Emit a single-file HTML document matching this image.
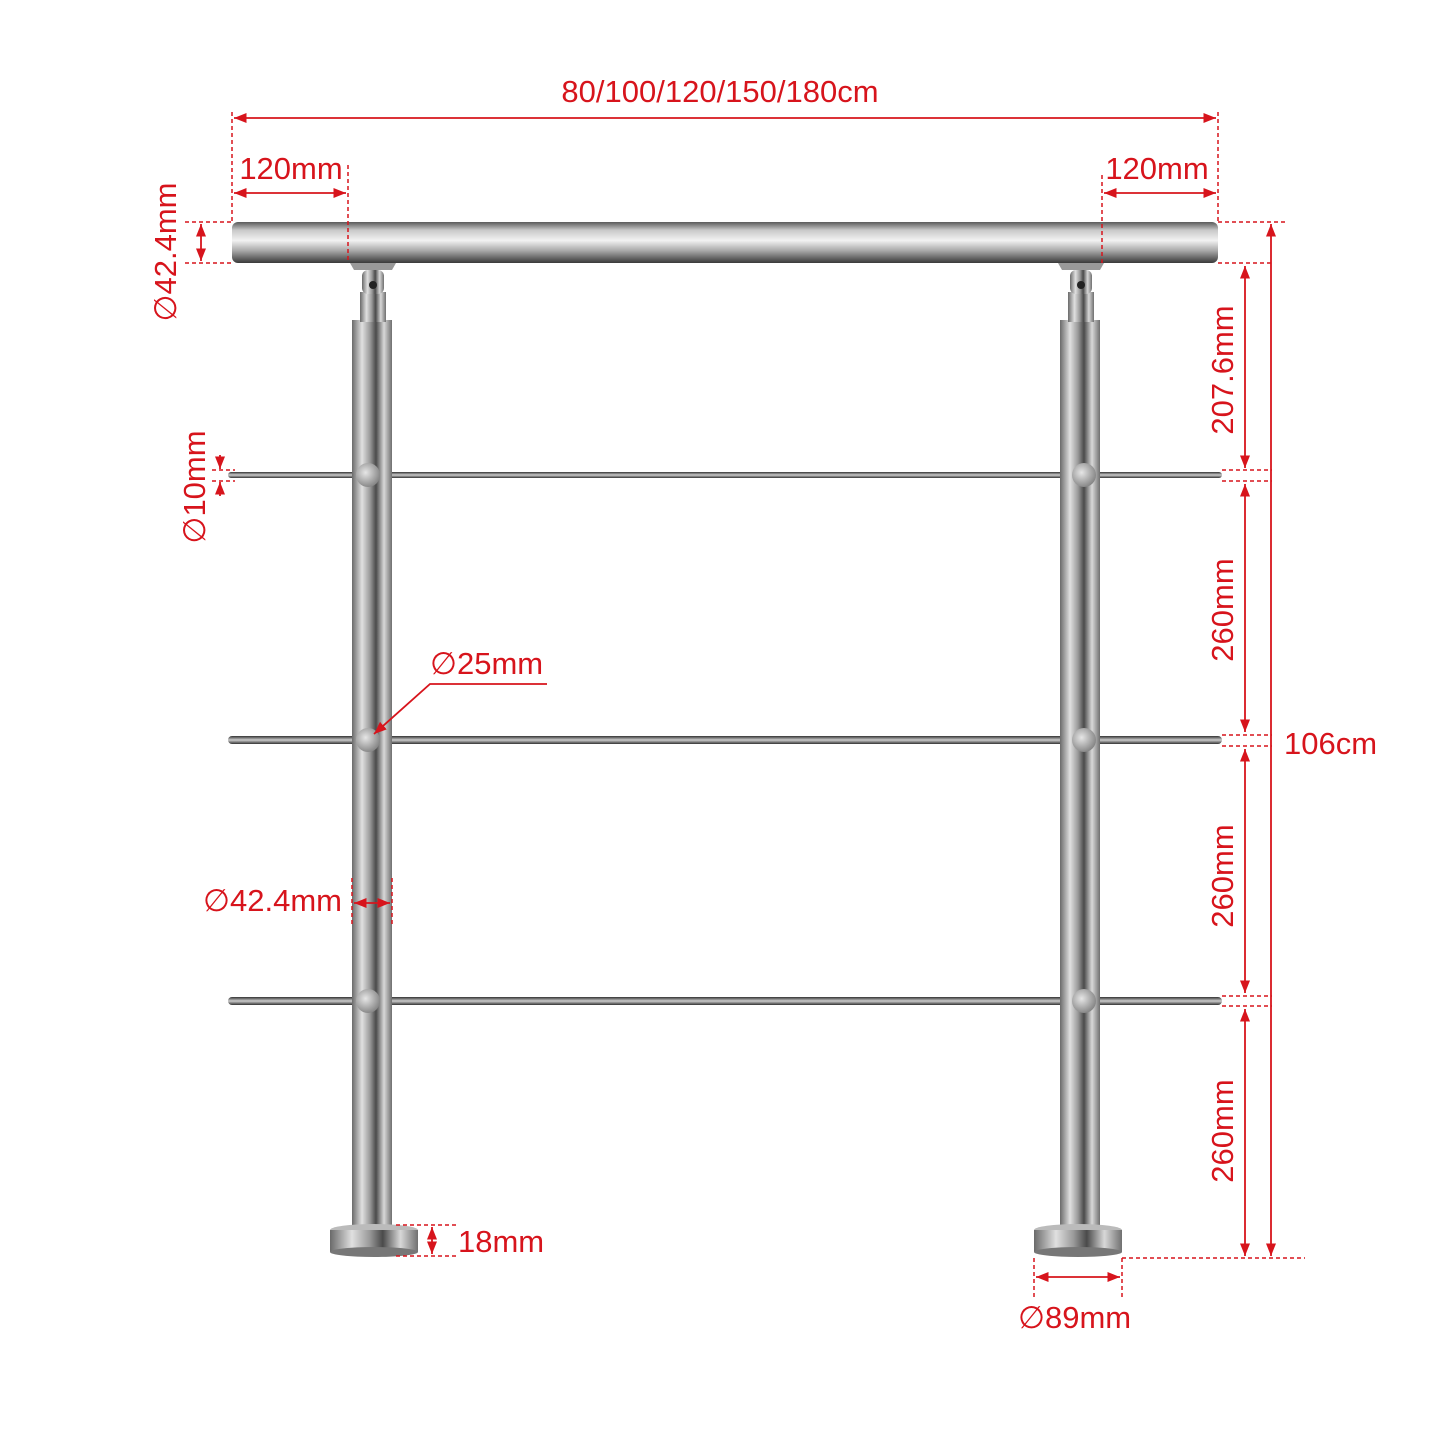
<!DOCTYPE html>
<html><head><meta charset="utf-8"><style>
html,body{margin:0;padding:0;background:#fff;}
svg{display:block;}
text{font-family:"Liberation Sans","DejaVu Sans",sans-serif;fill:#d7141c;font-size:31px;}
</style></head><body>
<svg width="1445" height="1445" viewBox="0 0 1445 1445" xmlns="http://www.w3.org/2000/svg">
<defs>
<linearGradient id="gh" x1="0" y1="0" x2="0" y2="1">
<stop offset="0" stop-color="#5a5a5a"/><stop offset="0.2" stop-color="#c9c9c9"/><stop offset="0.45" stop-color="#f2f2f2"/><stop offset="0.7" stop-color="#a8a8a8"/><stop offset="1" stop-color="#3a3a3a"/>
</linearGradient>
<linearGradient id="gv" x1="0" y1="0" x2="1" y2="0">
<stop offset="0" stop-color="#6a6a6a"/><stop offset="0.25" stop-color="#e0e0e0"/><stop offset="0.45" stop-color="#9a9a9a"/><stop offset="0.6" stop-color="#4a4a4a"/><stop offset="0.8" stop-color="#d8d8d8"/><stop offset="1" stop-color="#707070"/>
</linearGradient>
<linearGradient id="gr" x1="0" y1="0" x2="0" y2="1">
<stop offset="0" stop-color="#333"/><stop offset="0.5" stop-color="#ccc"/><stop offset="1" stop-color="#333"/>
</linearGradient>
<radialGradient id="gd" cx="0.4" cy="0.4" r="0.7"><stop offset="0" stop-color="#e6e6e6"/><stop offset="1" stop-color="#7a7a7a"/></radialGradient>
<marker id="a" viewBox="0 0 10 10" refX="10" refY="5" markerWidth="7" markerHeight="7" orient="auto-start-reverse"><path d="M0,1 L10,5 L0,9 z" fill="#d7141c"/></marker>
</defs>

<g>
<rect x="228" y="472" width="994" height="6" rx="3" fill="url(#gr)"/>
<rect x="228" y="736" width="994" height="8" rx="4" fill="url(#gr)"/>
<rect x="228" y="997" width="994" height="8" rx="4" fill="url(#gr)"/>
</g>
<g>
<rect x="352" y="320" width="40" height="915" fill="url(#gv)"/>
<rect x="1060" y="320" width="40" height="915" fill="url(#gv)"/>
<rect x="360" y="292" width="26" height="30" fill="url(#gv)"/>
<rect x="1068" y="292" width="26" height="30" fill="url(#gv)"/>
<rect x="362" y="270" width="22" height="24" rx="6" fill="url(#gv)"/>
<rect x="1070" y="270" width="22" height="24" rx="6" fill="url(#gv)"/>
<circle cx="373" cy="285" r="4" fill="#222"/>
<circle cx="1081" cy="285" r="4" fill="#222"/>
<path d="M350 263 H396 L392 270 H354 Z" fill="#999"/>
<path d="M1058 263 H1104 L1100 270 H1062 Z" fill="#999"/>
<ellipse cx="374" cy="1230" rx="44" ry="6" fill="#bbb"/>
<rect x="330" y="1230" width="88" height="22" fill="url(#gv)"/>
<ellipse cx="374" cy="1252" rx="44" ry="5" fill="#777"/>
<ellipse cx="1078" cy="1230" rx="44" ry="6" fill="#bbb"/>
<rect x="1034" y="1230" width="88" height="22" fill="url(#gv)"/>
<ellipse cx="1078" cy="1252" rx="44" ry="5" fill="#777"/>
<circle cx="368" cy="475" r="12" fill="url(#gd)"/>
<circle cx="1084" cy="475" r="12" fill="url(#gd)"/>
<circle cx="368" cy="740" r="12" fill="url(#gd)"/>
<circle cx="1084" cy="740" r="12" fill="url(#gd)"/>
<circle cx="368" cy="1001" r="12" fill="url(#gd)"/>
<circle cx="1084" cy="1001" r="12" fill="url(#gd)"/>
</g>
<rect x="232" y="222" width="986" height="41" rx="6" fill="url(#gh)"/>

<g stroke="#d7141c" stroke-width="1.5" fill="none" stroke-dasharray="4,3">
<line x1="232" y1="112" x2="232" y2="222"/>
<line x1="1218" y1="112" x2="1218" y2="222"/>
<line x1="348" y1="165" x2="348" y2="263"/>
<line x1="1102" y1="175" x2="1102" y2="263"/>
<line x1="185" y1="222" x2="232" y2="222"/>
<line x1="185" y1="263" x2="232" y2="263"/>
<line x1="1218" y1="222" x2="1285" y2="222"/>
<line x1="1218" y1="263" x2="1272" y2="263"/>
<line x1="1222" y1="470" x2="1272" y2="470"/>
<line x1="1222" y1="481" x2="1272" y2="481"/>
<line x1="1222" y1="735" x2="1272" y2="735"/>
<line x1="1222" y1="746" x2="1272" y2="746"/>
<line x1="1222" y1="996" x2="1272" y2="996"/>
<line x1="1222" y1="1006" x2="1272" y2="1006"/>
<line x1="1122" y1="1258" x2="1305" y2="1258"/>
<line x1="212" y1="470" x2="235" y2="470"/>
<line x1="212" y1="481" x2="235" y2="481"/>
<line x1="352" y1="878" x2="352" y2="926"/>
<line x1="392" y1="878" x2="392" y2="926"/>
<line x1="396" y1="1225" x2="456" y2="1225"/>
<line x1="396" y1="1256" x2="456" y2="1256"/>
<line x1="1034" y1="1258" x2="1034" y2="1300"/>
<line x1="1122" y1="1258" x2="1122" y2="1300"/>
</g>
<g stroke="#d7141c" stroke-width="1.8" fill="none">
<line x1="234" y1="118" x2="1216" y2="118" marker-start="url(#a)" marker-end="url(#a)"/>
<line x1="234" y1="193" x2="346" y2="193" marker-start="url(#a)" marker-end="url(#a)"/>
<line x1="1104" y1="193" x2="1216" y2="193" marker-start="url(#a)" marker-end="url(#a)"/>
<line x1="201" y1="224" x2="201" y2="261" marker-start="url(#a)" marker-end="url(#a)"/>
<line x1="1271" y1="224" x2="1271" y2="1256" marker-start="url(#a)" marker-end="url(#a)"/>
<line x1="1245" y1="266" x2="1245" y2="468" marker-start="url(#a)" marker-end="url(#a)"/>
<line x1="1245" y1="484" x2="1245" y2="732" marker-start="url(#a)" marker-end="url(#a)"/>
<line x1="1245" y1="749" x2="1245" y2="993" marker-start="url(#a)" marker-end="url(#a)"/>
<line x1="1245" y1="1009" x2="1245" y2="1256" marker-start="url(#a)" marker-end="url(#a)"/>
<line x1="220" y1="455" x2="220" y2="469" marker-end="url(#a)"/>
<line x1="220" y1="496" x2="220" y2="482" marker-end="url(#a)"/>
<line x1="354" y1="903" x2="390" y2="903" marker-start="url(#a)" marker-end="url(#a)"/>
<line x1="432" y1="1227" x2="432" y2="1254" marker-start="url(#a)" marker-end="url(#a)"/>
<line x1="1036" y1="1277" x2="1120" y2="1277" marker-start="url(#a)" marker-end="url(#a)"/>
<polyline points="547,684 430,684 374,734" marker-end="url(#a)"/>
</g>

<text x="720" y="102" text-anchor="middle">80/100/120/150/180cm</text>
<text x="291" y="179" text-anchor="middle">120mm</text>
<text x="1157" y="179" text-anchor="middle">120mm</text>
<text transform="translate(176,252) rotate(-90)" text-anchor="middle">∅42.4mm</text>
<text transform="translate(205,487) rotate(-90)" text-anchor="middle">∅10mm</text>
<text transform="translate(1233,370) rotate(-90)" text-anchor="middle">207.6mm</text>
<text transform="translate(1233,610) rotate(-90)" text-anchor="middle">260mm</text>
<text transform="translate(1233,876) rotate(-90)" text-anchor="middle">260mm</text>
<text transform="translate(1233,1131) rotate(-90)" text-anchor="middle">260mm</text>
<text x="1284" y="754">106cm</text>
<text x="430" y="674">∅25mm</text>
<text x="203" y="911">∅42.4mm</text>
<text x="458" y="1252">18mm</text>
<text x="1018" y="1328">∅89mm</text>
</svg>
</body></html>
